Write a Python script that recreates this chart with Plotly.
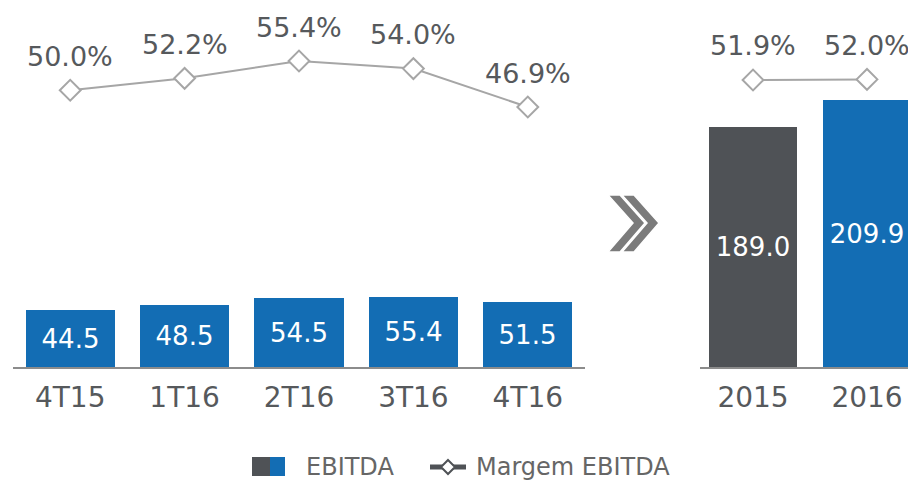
import plotly.graph_objects as go

# dados trimestrais
trimestres = ["4T15", "1T16", "2T16", "3T16", "4T16"]
ebitda_tri = [44.5, 48.5, 54.5, 55.4, 51.5]
margem_tri = [50.0, 52.2, 55.4, 54.0, 46.9]

# dados anuais
anos = ["2015", "2016"]
ebitda_ano = [189.0, 209.9]
margem_ano = [51.9, 52.0]

AZUL = "#136db4"
CINZA_ESC = "#4f5256"
CINZA_LINHA = "#a6a6a6"
TEXTO = "#56595c"
FONTE = "DejaVu Sans"

W, H = 916, 481
OFF = 8                # margem do body da página
PB = 367 - OFF         # linha do eixo, em pixels da figura


def px_x(x):
    return (x - OFF) / W


def px_y(y):
    return (367 - y) / PB


fig = go.Figure()

fig.add_trace(go.Bar(
    x=trimestres, y=ebitda_tri, xaxis="x", yaxis="y",
    marker=dict(color=AZUL, line=dict(width=0)), width=0.78,
    text=[f"{v:.1f}" for v in ebitda_tri], textposition="inside",
    insidetextanchor="middle", textfont=dict(color="white", size=26, family=FONTE),
    showlegend=False,
))
fig.add_trace(go.Bar(
    x=anos, y=ebitda_ano, xaxis="x2", yaxis="y",
    marker=dict(color=[CINZA_ESC, AZUL], line=dict(width=0)), width=0.78,
    text=[f"{v:.1f}" for v in ebitda_ano], textposition="inside",
    insidetextanchor="middle", textfont=dict(color="white", size=26, family=FONTE),
    showlegend=False,
))

linha = dict(color=CINZA_LINHA, width=2)
mark = dict(symbol="diamond", size=16, color="white", line=dict(color=CINZA_LINHA, width=2))
fig.add_trace(go.Scatter(
    x=trimestres, y=margem_tri, xaxis="x", yaxis="y2", mode="lines+markers",
    line=linha, marker=mark, showlegend=False, cliponaxis=False,
))
fig.add_trace(go.Scatter(
    x=anos, y=margem_ano, xaxis="x2", yaxis="y3", mode="lines+markers",
    line=linha, marker=mark, showlegend=False, cliponaxis=False,
))

# rótulos de margem (posição pelo índice da categoria)
for ys, xr, yr in [(margem_tri, "x", "y2"), (margem_ano, "x2", "y3")]:
    for i, v in enumerate(ys):
        fig.add_annotation(
            x=i, y=v, xref=xr, yref=yr, text=f"{v:.1f}%", showarrow=False,
            yshift=34, font=dict(size=27, color=TEXTO, family=FONTE),
        )

# setas ">>"
shapes = []
for x0 in (608, 622):
    t, tip = 12, x0 + 37
    top, mid, bot = 195, 223, 252
    pts = [(x0, top), (x0 + t, top), (tip, mid), (x0 + t, bot), (x0, bot), (tip - t, mid)]
    path = "M " + " L ".join(f"{px_x(a):.5f},{px_y(b):.5f}" for a, b in pts) + " Z"
    shapes.append(dict(type="path", path=path, xref="paper", yref="paper",
                       fillcolor="#7b7b7b", line=dict(color="white", width=1.5)))

# legenda manual
shapes.append(dict(type="rect", xref="paper", yref="paper",
                   x0=px_x(252), x1=px_x(270), y0=px_y(476), y1=px_y(457),
                   fillcolor=CINZA_ESC, line=dict(width=0)))
shapes.append(dict(type="rect", xref="paper", yref="paper",
                   x0=px_x(270), x1=px_x(285), y0=px_y(476), y1=px_y(457),
                   fillcolor=AZUL, line=dict(width=0)))
shapes.append(dict(type="line", xref="paper", yref="paper",
                   x0=px_x(430), x1=px_x(466), y0=px_y(467), y1=px_y(467),
                   line=dict(color=CINZA_ESC, width=5)))
d = 7
dpts = [(448, 467 - d), (448 + d, 467), (448, 467 + d), (448 - d, 467)]
shapes.append(dict(type="path", xref="paper", yref="paper",
                   path="M " + " L ".join(f"{px_x(a):.5f},{px_y(b):.5f}" for a, b in dpts) + " Z",
                   fillcolor="white", line=dict(color=CINZA_ESC, width=2)))

fig.add_annotation(x=px_x(304), y=px_y(467), xref="paper", yref="paper", text="EBITDA",
                   showarrow=False, xanchor="left", yanchor="middle",
                   font=dict(size=24, color="#666666", family=FONTE))
fig.add_annotation(x=px_x(474), y=px_y(467), xref="paper", yref="paper", text="Margem EBITDA",
                   showarrow=False, xanchor="left", yanchor="middle",
                   font=dict(size=24, color="#666666", family=FONTE))

eixo_x = dict(showline=True, linecolor="#8c8c8c", linewidth=2, showgrid=False,
              ticks="", ticklabelstandoff=4, type="category",
              tickfont=dict(size=28, color=TEXTO, family=FONTE), fixedrange=True)

fig.update_layout(
    width=W, height=H,
    margin=dict(l=0, r=0, t=0, b=H - PB),
    paper_bgcolor="white", plot_bgcolor="white",
    shapes=shapes,
    xaxis=dict(eixo_x, domain=[px_x(13), px_x(585)], range=[-0.5, 4.5], anchor="y"),
    xaxis2=dict(eixo_x, domain=[px_x(700), 1], range=[-0.465, 1.5], anchor="y"),
    yaxis=dict(range=[0, PB / 1.27], visible=False, domain=[0, 1]),
    yaxis2=dict(range=[-1.16, 65.2], visible=False, overlaying="y"),
    yaxis3=dict(range=[-1.16, 65.2], visible=False, overlaying="y", anchor="x2"),
    bargap=0,
)

fig.write_html("out.html")
